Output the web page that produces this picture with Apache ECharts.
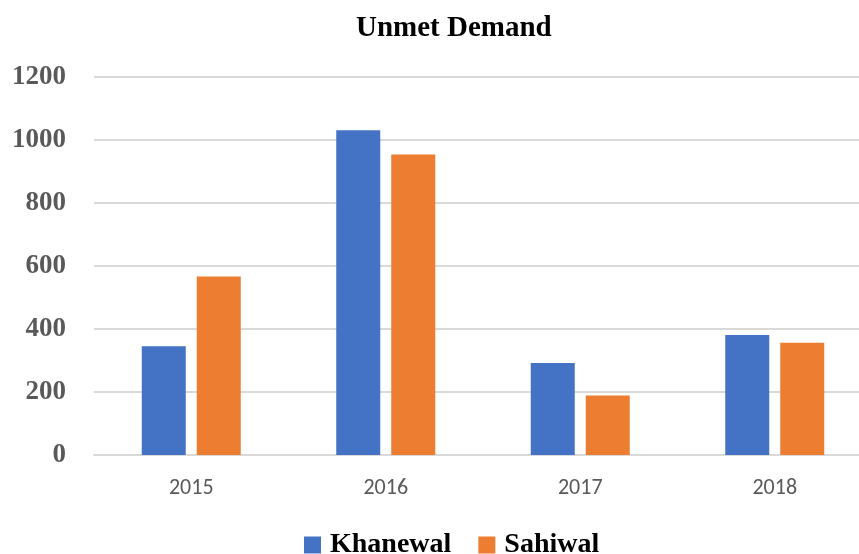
<!DOCTYPE html>
<html><head><meta charset="utf-8">
<script src="https://cdn.jsdelivr.net/npm/echarts@6/dist/echarts.min.js"></script>
<style>html,body{margin:0;padding:0;background:#fff;overflow:hidden;width:859px;height:554px}#c{width:900px;height:554px}</style>
</head><body><div id="c"></div>
<script>
const categories = ['2015','2016','2017','2018'];
const khanewal = [345, 1031, 292, 381];
const sahiwal = [567, 954, 189, 356];
const yTicks = [0, 200, 400, 600, 800, 1000, 1200];

const serif = '"Palatino Linotype","Book Antiqua",Palatino,"Liberation Serif",serif';
const chart = echarts.init(document.getElementById('c'));
chart.setOption({
  animation: false,
  title: {
    text: 'Unmet Demand', left: 351, top: 9,
    textStyle: {fontFamily: serif, fontWeight: 'bold', fontSize: 29, color: '#000'}
  },
  legend: {
    bottom: -5, left: 304, padding: 0, itemWidth: 17, itemHeight: 17, itemGap: 27,
    icon: 'rect',
    textStyle: {fontFamily: serif, fontWeight: 'bold', fontSize: 28, color: '#000', padding: [0, 0, 0, 4]}
  },
  grid: {left: 94, top: 77, width: 778, height: 378, containLabel: false},
  xAxis: {
    type: 'category', data: categories,
    axisLine: {lineStyle: {color: '#D9D9D9', width: 2}},
    axisTick: {show: false},
    axisLabel: {fontFamily: 'Carlito, Calibri, "Liberation Sans", sans-serif', fontSize: 22, color: '#595959', margin: 22}
  },
  yAxis: {
    type: 'value', min: yTicks[0], max: yTicks[yTicks.length-1], interval: 200,
    axisLine: {show: false}, axisTick: {show: false},
    splitLine: {lineStyle: {color: '#D9D9D9', width: 2}},
    axisLabel: {fontFamily: serif, fontWeight: 'bold', fontSize: 27, color: '#595959', margin: 28,
      formatter: v => String(v)}
  },
  series: [
    {name: 'Khanewal', type: 'bar', data: khanewal, barWidth: 44, barGap: '25%',
     itemStyle: {color: '#4472C4'}},
    {name: 'Sahiwal', type: 'bar', data: sahiwal, barWidth: 44,
     itemStyle: {color: '#ED7D31'}}
  ]
});
</script></body></html>
